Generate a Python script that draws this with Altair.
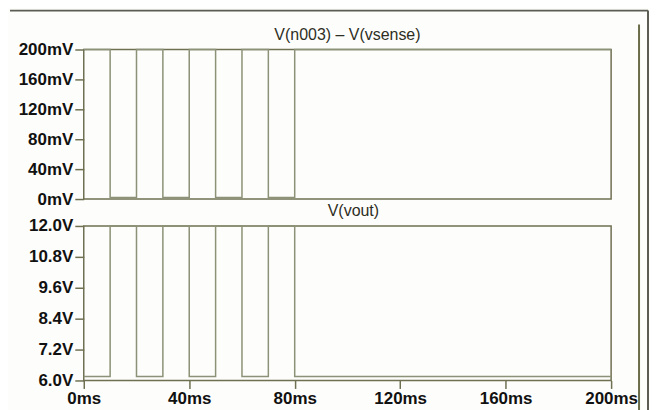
import altair as alt
import pandas as pd

# Switching instants (ms) and the levels held from each instant on
t_ms = [0, 10, 20, 30, 40, 50, 60, 70, 80, 200]
sense_mv = [200, 2, 200, 2, 200, 2, 200, 2, 200, 200]
vout_v = [6.15, 12.0, 6.15, 12.0, 6.15, 12.0, 6.15, 12.0, 6.15, 6.15]

x_ticks = [0, 40, 80, 120, 160, 200]
top_ticks = [0, 40, 80, 120, 160, 200]
bot_ticks = [6.0, 7.2, 8.4, 9.6, 10.8, 12.0]

top_title = "V(n003) – V(vsense)"
bottom_title = "V(vout)"

df = pd.DataFrame({"t": t_ms, "sense": sense_mv, "vout": vout_v})
one = pd.DataFrame({"d": [0]})

FRAME = "#6f7052"
SIG = "#8c9277"
LABEL_FONT = "Liberation Sans"
XSCALE = alt.Scale(domain=[0, 200], nice=False)

y_axis_common = dict(
    labelFont=LABEL_FONT, labelFontSize=17, labelFontWeight="bold", labelColor="#111111",
    tickSize=9, tickColor=FRAME, tickWidth=1.5, domain=False, grid=False,
    labelPadding=2, title=None, labelBaseline="middle",
)

top_line = alt.Chart(df).mark_line(
    interpolate="step-after", color=SIG, strokeWidth=1.5).encode(
    x=alt.X("t:Q", scale=XSCALE, axis=None),
    y=alt.Y("sense:Q", scale=alt.Scale(domain=[0, 200], nice=False),
            axis=alt.Axis(values=top_ticks, labelExpr="datum.value + 'mV'", **y_axis_common)),
)

top_label = alt.Chart(one).mark_text(
    font=LABEL_FONT, fontSize=16, color="#2e2e24", baseline="middle", align="center").encode(
    x=alt.datum(100), y=alt.value(-14.5), text=alt.value(top_title))

# decorative outer frame of the scanned figure
deco_top = alt.Chart(one).mark_rule(color="#5c5c52", strokeWidth=2).encode(
    x=alt.value(-74), x2=alt.value(566), y=alt.value(-39))
deco_right = alt.Chart(one).mark_rule(color="#5c5c52", strokeWidth=2).encode(
    x=alt.value(566), y=alt.value(-39), y2=alt.value(362))
deco_inner = alt.Chart(one).mark_rule(color="#6b6c48", strokeWidth=2).encode(
    x=alt.value(557), y=alt.value(-25), y2=alt.value(362))

top = alt.layer(top_line, top_label, deco_top, deco_right, deco_inner).properties(
    width=529, height=150)

bottom_line = alt.Chart(df).mark_line(
    interpolate="step-after", color=SIG, strokeWidth=1.5).encode(
    x=alt.X("t:Q", scale=XSCALE,
            axis=alt.Axis(values=x_ticks, labelExpr="datum.value + 'ms'", title=None,
                          labelFont=LABEL_FONT, labelFontSize=17, labelFontWeight="bold",
                          labelColor="#111111", tickSize=8, tickColor=FRAME, tickWidth=1.5,
                          domain=False, grid=False, labelPadding=2, labelFlush=False)),
    y=alt.Y("vout:Q", scale=alt.Scale(domain=[6, 12], nice=False, zero=False),
            axis=alt.Axis(values=bot_ticks, labelExpr="format(datum.value, '.1f') + 'V'",
                          **y_axis_common)),
)

bottom_label = alt.Chart(one).mark_text(
    font=LABEL_FONT, fontSize=16, color="#2e2e24", baseline="middle", align="center",
    dx=6).encode(x=alt.datum(100), y=alt.value(-14.5), text=alt.value(bottom_title))

bottom = alt.layer(bottom_line, bottom_label).properties(width=529, height=155)

chart = alt.vconcat(top, bottom, spacing=27, bounds="flush").properties(
    padding={"left": 0, "top": 0, "right": 0, "bottom": 0},
    background="#fdfdfb",
).configure_view(stroke=FRAME, strokeWidth=1.5)

chart.save("out.html", embed_options={"renderer": "svg", "actions": False})
